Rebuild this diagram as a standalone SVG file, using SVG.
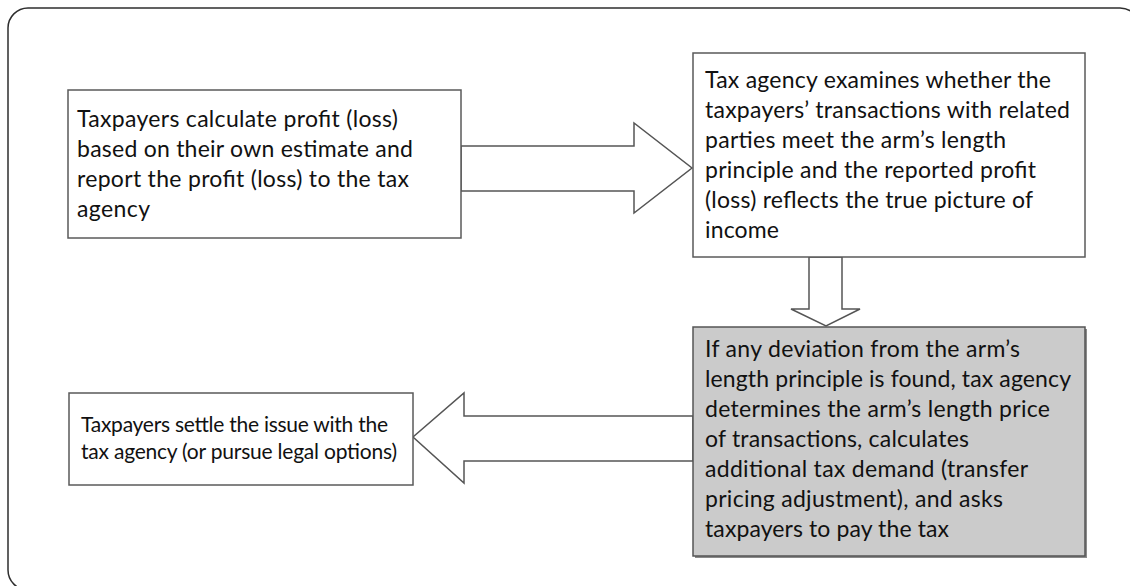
<svg xmlns="http://www.w3.org/2000/svg" width="1130" height="586" viewBox="0 0 1130 586">
  <style>
    .frame { fill: #ffffff; stroke: #2e2e2e; stroke-width: 1.5; }
    .box { fill: #ffffff; stroke: #5a5a5a; stroke-width: 1.5; }
    .box.shaded { fill: #cbcbcb; stroke: #555555; }
    .arrow { fill: #ffffff; stroke: #555555; stroke-width: 1.5; stroke-linejoin: miter; }
    text { font-family: Lato, "Liberation Sans", sans-serif; font-size: 23px; fill: #111111; }
    .small { font-size: 21px; }
  </style>

  <!-- outer rounded frame (its right and bottom edges run past the page) -->
  <rect class="frame" x="8" y="8" width="1132" height="582" rx="20" ry="20"/>

  <!-- block arrows between steps -->
  <g id="connectors">
    <polygon class="arrow" points="461,146 634,146 634,123 692,168 634,213 634,191 461,191"/>
    <polygon class="arrow" points="809,257 842,257 842,309 860,309 826,326 791,309 809,309"/>
    <polygon class="arrow" points="693,416 464,416 464,393 413,437 464,483 464,461 693,461"/>
  </g>

  <g id="step-report">
    <rect class="box" x="68" y="90" width="393" height="148"/>
    <text x="77" y="127" textLength="321">Taxpayers calculate profit (loss)</text>
    <text x="77" y="157" textLength="336">based on their own estimate and</text>
    <text x="77" y="187" textLength="332">report the profit (loss) to the tax</text>
    <text x="77" y="217" textLength="73">agency</text>
  </g>

  <g id="step-examine">
    <rect class="box" x="693" y="53" width="392" height="204"/>
    <text x="705" y="88" textLength="346">Tax agency examines whether the</text>
    <text x="705" y="118" textLength="365">taxpayers’ transactions with related</text>
    <text x="705" y="148" textLength="301">parties meet the arm’s length</text>
    <text x="705" y="178" textLength="331">principle and the reported profit</text>
    <text x="705" y="208" textLength="328">(loss) reflects the true picture of</text>
    <text x="705" y="238" textLength="74">income</text>
  </g>

  <g id="step-adjust">
    <rect x="695" y="329" width="392" height="229" fill="#8a8a8a"/>
    <rect class="box shaded" x="693" y="327" width="392" height="229"/>
    <text x="705" y="357" textLength="315">If any deviation from the arm’s</text>
    <text x="705" y="387" textLength="366">length principle is found, tax agency</text>
    <text x="705" y="417" textLength="345">determines the arm’s length price</text>
    <text x="705" y="447" textLength="264">of transactions, calculates</text>
    <text x="705" y="477" textLength="323">additional tax demand (transfer</text>
    <text x="705" y="507" textLength="298">pricing adjustment), and asks</text>
    <text x="705" y="537" textLength="244">taxpayers to pay the tax</text>
  </g>

  <g id="step-settle">
    <rect class="box" x="69" y="393" width="344" height="92"/>
    <text class="small" x="81" y="432" textLength="307">Taxpayers settle the issue with the</text>
    <text class="small" x="81" y="459" textLength="316">tax agency (or pursue legal options)</text>
  </g>
</svg>
